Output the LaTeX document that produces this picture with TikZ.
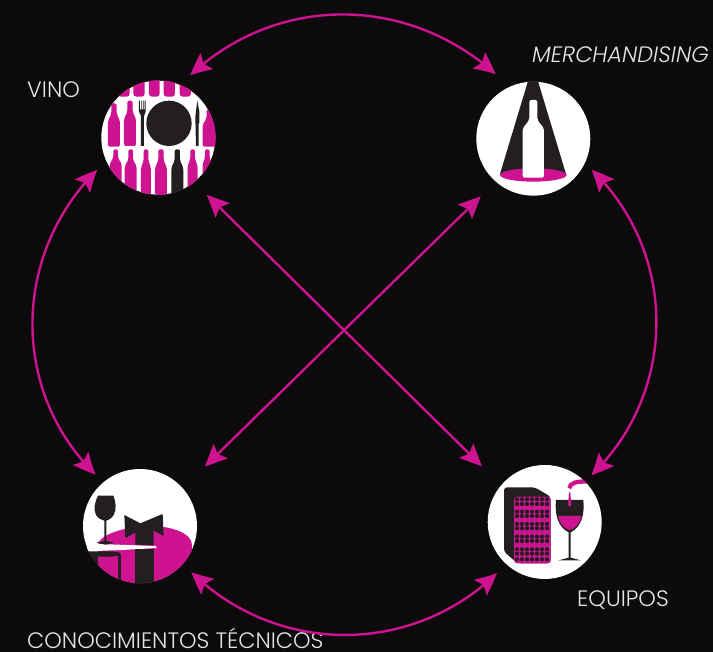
\documentclass[tikz,border=0pt]{standalone}
\usepackage{fontspec}
\setmainfont{Poppins Light}
\usetikzlibrary{arrows.meta,bending}
\definecolor{bgInk}{HTML}{0D0A0B}
\definecolor{darkInk}{HTML}{231F20}
\definecolor{wineMagenta}{HTML}{CE1391}
\definecolor{labelGrey}{HTML}{E6E6E6}
\tikzset{
  stationNode/.style={circle, fill=white, minimum size=114pt, inner sep=0pt, outer sep=13pt},
  stationLabel/.style={text=labelGrey, font=\fontsize{22.3}{24}\selectfont, inner sep=0pt, anchor=base west},
  linkArrow/.style={{Stealth[length=22pt,width=20pt,inset=4pt,bend]}-{Stealth[length=22pt,width=20pt,inset=4pt,bend]}, draw=wineMagenta, line width=2.4pt},
  iconFrame/.style={x=0.3333pt, y=-0.3333pt}
}
% bottle: colour, centre x, top, bottom, half width, half neck
\newcommand{\winebottle}[6]{%
  \pgfmathsetmacro{\neckEnd}{#3+0.25*(#4-#3)}
  \pgfmathsetmacro{\shoulderEnd}{#3+0.4*(#4-#3)}
  \fill[#1, rounded corners=2pt] (#2-#6,#3) -- (#2+#6,#3) -- (#2+#6,\neckEnd) -- (#2+#5,\shoulderEnd)
    -- (#2+#5,#4) -- (#2-#5,#4) -- (#2-#5,\shoulderEnd) -- (#2-#6,\neckEnd) -- cycle;
}
\begin{document}
\begin{tikzpicture}[x=1pt, y=1pt, >=Stealth]
  \fill[bgInk] (0,0) rectangle (713,652);
  \useasboundingbox (0,0) rectangle (713,652);

  \node[stationNode] (vino) at (158.3,514.3) {};
  \node[stationNode] (merch) at (533.3,513.3) {};
  \node[stationNode] (tecnicos) at (140,126) {};
  \node[stationNode] (equipos) at (544.7,130) {};

  \node[stationLabel] (vinoLabel) at (27,554) {VINO};
  \node[stationLabel, font=\fontsize{22.3}{24}\selectfont\itshape] (merchLabel) at (532,589) {MERCHANDISING};
  \node[stationLabel] (equiposLabel) at (577,45) {EQUIPOS};
  \node[stationLabel] (tecnicosLabel) at (27,3) {CONOCIMIENTOS TÉCNICOS};

  % ring
  \draw[linkArrow, shorten >=5pt] (vino.63) to[out=43, in=137] (merch.119);
  \draw[linkArrow, shorten <=-4pt, shorten >=-4pt] (merch.-29) to[out=-45, in=45] (equipos.45);
  \draw[linkArrow, shorten >=-1pt] (equipos.-133) to[out=-136, in=-44] (tecnicos.-42);
  \draw[linkArrow, shorten <=-2pt, shorten >=-1pt] (tecnicos.131) to[out=135, in=-135] (vino.-152);
  % cross
  \draw[linkArrow, shorten <=5pt, shorten >=14pt] (vino.-50) -- (equipos.139);
  \draw[linkArrow, shorten <=8pt, shorten >=18pt] (merch.-132) -- (tecnicos.42);

  % vino icon
  \begin{scope}[shift={(90,582)}, iconFrame]
    \clip (205,203) circle[radius=172];
    \foreach \botX/\botW in {101/18, 147/17, 193/16, 238/17, 286/17, 335/17}
      \fill[wineMagenta, rounded corners=3pt] (\botX-\botW,15) rectangle (\botX+\botW,80);
    \winebottle{wineMagenta}{72}{100}{230}{18}{8}
    \winebottle{wineMagenta}{120}{92}{228}{18}{8}
    \winebottle{wineMagenta}{358}{118}{230}{20}{8}
    \winebottle{wineMagenta}{77}{238}{345}{18}{7}
    \winebottle{wineMagenta}{122}{238}{365}{18}{7}
    \winebottle{wineMagenta}{168}{238}{375}{15}{7}
    \winebottle{wineMagenta}{213}{238}{375}{18}{8}
    \winebottle{darkInk}{262}{238}{375}{18}{8}
    \winebottle{wineMagenta}{308}{238}{360}{15}{7}
    \winebottle{wineMagenta}{352}{238}{345}{14}{7}
    \fill[darkInk] (237,160) circle[radius=68];
    \fill[darkInk] (147,92) -- (150,92) -- (150,118) -- (154,118) -- (154,92) -- (156,92) -- (156,118) -- (159,118) -- (159,92) -- (161,92) -- (161,118) -- (164,118) -- (164,92) -- (167,92) -- (167,125) -- (162,138) -- (162,228) -- (153,228) -- (153,138) -- (147,125) -- cycle;
    \fill[darkInk] (322,92) -- (328,125) -- (328,160) -- (326,160) -- (326,228) -- (318,228) -- (316,140) -- cycle;
  \end{scope}

  % merchandising icon
  \begin{scope}[shift={(465,582)}, iconFrame]
    \clip (205,206) circle[radius=172];
    \fill[darkInk] (190,30) -- (218,30) -- (303,312) -- (105,312) -- cycle;
    \fill[wineMagenta] (205,315) ellipse[x radius=100, y radius=20];
    \fill[white, rounded corners=2pt] (193,90) -- (217,90) -- (217,150) -- (237,175) -- (237,323) -- (173,323) -- (173,175) -- (193,150) -- cycle;
  \end{scope}

  % tecnicos icon
  \begin{scope}[shift={(72,192)}, iconFrame]
    \clip (204,198) circle[radius=172];
    \fill[wineMagenta] (78,255) .. controls (80,222) and (170,198) .. (232,198) .. controls (300,198) and (360,220) .. (360,255) -- (360,400) -- (78,400) -- cycle;
    \fill[white] (45,250) -- (78,252) -- (250,258) -- (255,264) -- (150,270) -- (45,274) -- cycle;
    \fill[darkInk] (45,274) -- (100,274) -- (100,290) -- (78,290) -- (78,400) -- (45,400) -- cycle;
    \fill[darkInk] (110,282) ellipse[x radius=36, y radius=8];
    \fill[darkInk] (139,282) -- (146,282) -- (146,380) -- (139,380) -- cycle;
    \fill[darkInk] (190,268) rectangle (245,380);
    \fill[darkInk] (157,165) -- (205,190) -- (272,162) -- (275,228) -- (245,212) -- (245,256) -- (190,254) -- (190,218) -- (160,234) -- cycle;
    \fill[darkInk] (78,107) -- (124,107) .. controls (132,125) and (134,150) .. (125,165) .. controls (118,177) and (108,180) .. (103,182) -- (103,243) -- (127,248) -- (100,254) -- (73,248) -- (97,243) -- (97,182) .. controls (88,180) and (78,175) .. (72,165) .. controls (64,150) and (68,125) .. (78,107) -- cycle;
  \end{scope}

  % equipos icon
  \begin{scope}[shift={(478,197)}, iconFrame]
    \clip (200,201) circle[radius=172];
    \fill[darkInk, rounded corners=3pt] (78,97) -- (170,97) -- (218,125) -- (218,325) -- (118,325) -- (78,290) -- cycle;
    \fill[wineMagenta, rounded corners=3pt] (108,125) rectangle (218,325);
    \foreach \rowY in {133,147,170,183,207,220,245,258,283,296,313}
      \foreach \colX in {117,132,...,207}
        \fill[darkInk] (\colX,\rowY) circle[radius=6.4];
    \foreach \shelfY in {158,195,232,270,305}
      \fill[wineMagenta] (108,\shelfY-2) rectangle (218,\shelfY+2);
    \fill[darkInk] (234,135) -- (316,135) .. controls (320,175) and (312,215) .. (278,232) -- (278,308) -- (308,316) -- (242,316) -- (272,308) -- (272,232) .. controls (238,215) and (230,175) .. (234,135) -- cycle;
    \fill[wineMagenta] (240,183) -- (310,183) .. controls (305,205) and (292,222) .. (275,225) .. controls (258,222) and (245,205) .. (240,183) -- cycle;
    \fill[wineMagenta] (273,112) -- (277,112) -- (280,150) .. controls (280,156) and (270,156) .. (270,150) -- cycle;
    \draw[wineMagenta, line width=4.3pt] (274,100) .. controls (276,84) and (295,78) .. (330,80);
  \end{scope}
\end{tikzpicture}
\end{document}
